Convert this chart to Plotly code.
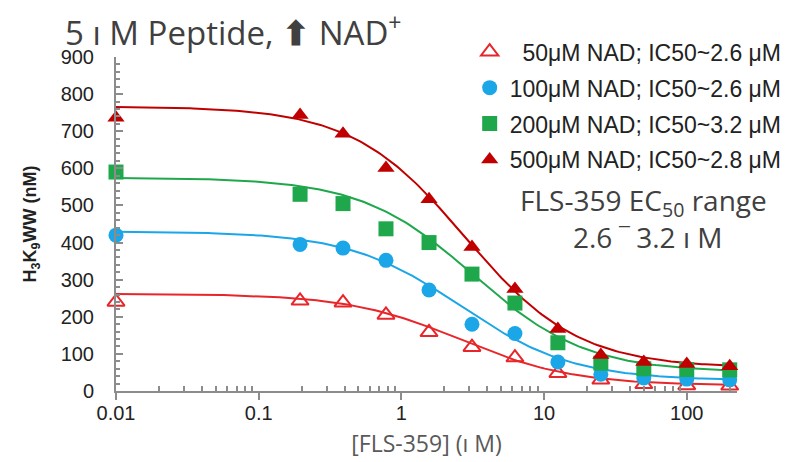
import numpy as np
import plotly.graph_objects as go

# FLS-359 concentrations (µM); 0 µM control plotted at 0.01
conc = [0.01, 0.195, 0.39, 0.78, 1.5625, 3.125, 6.25, 12.5, 25, 50, 100, 200]

series_names = [
    "\u00a0 50μM NAD; IC50~2.6 μM",
    "100μM NAD; IC50~2.6 μM",
    "200μM NAD; IC50~3.2 μM",
    "500μM NAD; IC50~2.8 μM",
]
nad50 = [240, 243, 238, 205, 158, 118, 90, 48, 30, 18, 15, 14]
nad100 = [420, 395, 385, 352, 272, 180, 155, 78, 45, 35, 32, 30]
nad200 = [590, 530, 505, 437, 400, 315, 237, 130, 75, 60, 58, 57]
nad500 = [736, 744, 693, 601, 517, 388, 275, 167, 97, 78, 73, 67]

# fitted 4-parameter logistic curve parameters
fit_top = [262, 430, 575, 767]
fit_bottom = [15, 28, 50, 62]
fit_ic50 = [2.6, 2.6, 3.2, 2.8]
fit_hill = [1.1, 1.1, 1.1, 1.1]

values = [nad50, nad100, nad200, nad500]
line_colors = ["#E8262A", "#1BA6E8", "#1FA84B", "#C00000"]
symbols = ["triangle-up-open", "circle", "square", "triangle-up"]

fig = go.Figure()

xs = np.logspace(-2, np.log10(200), 200)
for i in range(4):
    ys = fit_bottom[i] + (fit_top[i] - fit_bottom[i]) / (1 + (xs / fit_ic50[i]) ** fit_hill[i])
    fig.add_trace(go.Scatter(x=xs, y=ys, mode="lines",
                             line=dict(color=line_colors[i], width=2),
                             showlegend=False, hoverinfo="skip", cliponaxis=False))

for i in range(4):
    mk = dict(symbol=symbols[i], size=15, color=line_colors[i])
    if i == 0:
        mk["line"] = dict(color=line_colors[i], width=2)
    fig.add_trace(go.Scatter(x=conc, y=values[i], mode="markers", name=series_names[i],
                             marker=mk, legendgroup=str(i), cliponaxis=False))

axis_color = "#8C8C8C"
fig.update_xaxes(
    type="log", range=[-2, np.log10(225)], automargin=False,
    tickvals=[0.01, 0.1, 1, 10, 100], ticktext=["0.01", "0.1", "1", "10", "100"],
    ticks="outside", ticklen=7, tickwidth=2, tickcolor=axis_color,
    minor=dict(tickvals=[m * 10.0 ** d for d in range(-2, 3) for m in range(2, 10)],
               ticks="inside", ticklen=5, tickwidth=1.5, tickcolor=axis_color),
    showline=True, linecolor=axis_color, linewidth=2, showgrid=False, zeroline=False,
    tickfont=dict(family="Liberation Sans, Arial", size=20, color="#222222"),
    ticklabelstandoff=-4,
    title=dict(text="[FLS-359] (ı M)", font=dict(family="Open Sans", size=23, color="#595959"),
               standoff=13),
)
fig.update_yaxes(
    range=[0, 900], dtick=100, automargin=False,
    ticks="inside", ticklen=7, tickwidth=2, tickcolor=axis_color,
    minor=dict(dtick=20, ticks="inside", ticklen=4, tickwidth=1.5, tickcolor=axis_color),
    showline=True, linecolor=axis_color, linewidth=2, showgrid=False, zeroline=False,
    tickfont=dict(family="Liberation Sans, Arial", size=20, color="#222222"),
    ticklabelstandoff=16,
    title=dict(text="<b>H<sub>3</sub>K<sub>9</sub>WW (nM)</b>",
               font=dict(family="Liberation Sans, Arial", size=18, color="#222222"),
               standoff=19),
)

# page body has an 8px margin, so the figure is sized to fit the 792x462 window
fig.update_layout(
    width=784, height=454,
    margin=dict(l=108, r=55, t=49, b=71, autoexpand=False),
    paper_bgcolor="white", plot_bgcolor="white",
    title=dict(text="5 ı M Peptide, <b>⬆</b> NAD<sup>+</sup>", x=57 / 784, xanchor="left",
               y=1 - 25 / 454, yanchor="middle",
               font=dict(family="Open Sans", size=33, color="#404040")),
    legend=dict(x=1.08, xanchor="right", y=1.08, yanchor="top",
                font=dict(family="Liberation Sans, Arial", size=23, color="#222222"),
                bgcolor="rgba(0,0,0,0)", tracegroupgap=3, traceorder="grouped",
                itemwidth=30),
    annotations=[
        dict(text="FLS-359 EC<sub>50</sub> range", xref="paper", yref="paper",
             x=(643 - 116) / 621, y=(391 - 202) / 334, xanchor="center", yanchor="middle",
             showarrow=False, font=dict(family="Open Sans", size=28, color="#404040")),
        dict(text="2.6 ‾ 3.2 ı M", xref="paper", yref="paper",
             x=(647 - 116) / 621, y=(391 - 237) / 334, xanchor="center", yanchor="middle",
             showarrow=False, font=dict(family="Open Sans", size=28, color="#404040")),
    ],
)

fig.write_html("out.html")
